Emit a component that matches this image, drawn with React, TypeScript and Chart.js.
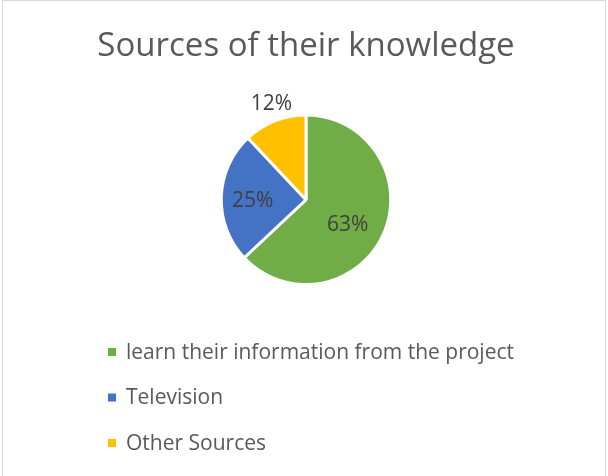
import React, { useEffect, useRef } from "react";
import { Chart, registerables } from "chart.js";

Chart.register(...registerables);

const TITLE = "Sources of their knowledge";
const categories = [
  "learn their information from the project",
  "Television",
  "Other Sources",
];
const values = [63, 25, 12];
const colors = ["#70AD47", "#4472C4", "#FFC000"];
// placement of each percentage label (fraction of radius, extra px outside, angle shift in degrees)
const labelRadiusFactor = [0.57, 0.63, 1.0];
const labelRadiusExtra = [0, 0, 18];
const labelAngleShift = [7, -1.8, 2];

const FONT = "'Open Sans', 'Noto Sans', sans-serif";

const backgroundPlugin = {
  id: "bgBorder",
  beforeDraw(chart: any) {
    const { ctx, width, height } = chart;
    ctx.save();
    ctx.fillStyle = "#ffffff";
    ctx.fillRect(0, 0, width, height);
    ctx.strokeStyle = "#d9d9d9";
    ctx.lineWidth = 1;
    ctx.strokeRect(2.5, 0.5, width - 5, height + 2);
    ctx.restore();
  },
};

const pctLabelPlugin = {
  id: "pctLabels",
  afterDatasetsDraw(chart: any) {
    const { ctx } = chart;
    const meta = chart.getDatasetMeta(0);
    const data = chart.data.datasets[0].data as number[];
    const total = data.reduce((a, b) => a + b, 0);
    ctx.save();
    ctx.font = `21px ${FONT}`;
    ctx.fillStyle = "#404040";
    ctx.textAlign = "center";
    ctx.textBaseline = "middle";
    meta.data.forEach((arc: any, i: number) => {
      const p = arc.getProps(["x", "y", "startAngle", "endAngle", "outerRadius"], true);
      const mid = (p.startAngle + p.endAngle) / 2 + (labelAngleShift[i] * Math.PI) / 180;
      const r = p.outerRadius * labelRadiusFactor[i] + labelRadiusExtra[i];
      const tx = p.x + Math.cos(mid) * r;
      const ty = p.y + Math.sin(mid) * r + 1;
      ctx.fillText(Math.round((data[i] / total) * 100) + "%", tx, ty);
    });
    ctx.restore();
  },
};

const legendPlugin = {
  id: "verticalLegend",
  afterDraw(chart: any) {
    const { ctx } = chart;
    const labels = chart.data.labels as string[];
    const bg = chart.data.datasets[0].backgroundColor as string[];
    const x0 = 108;
    const y0 = 352;
    const step = 45.5;
    const box = 8;
    ctx.save();
    ctx.font = `21px ${FONT}`;
    ctx.textBaseline = "middle";
    ctx.textAlign = "left";
    labels.forEach((lab, i) => {
      const cy = y0 + i * step;
      ctx.fillStyle = bg[i];
      ctx.fillRect(x0, cy - box / 2, box, box);
      ctx.fillStyle = "#595959";
      ctx.fillText(lab, x0 + 18, cy + 1);
    });
    ctx.restore();
  },
};

export default function App() {
  const ref = useRef<HTMLCanvasElement | null>(null);

  useEffect(() => {
    document.body.style.margin = "0";
    if (!ref.current) return;
    const chart = new Chart(ref.current, {
      type: "pie",
      data: {
        labels: categories,
        datasets: [
          {
            data: values,
            backgroundColor: colors,
            borderColor: "#ffffff",
            borderWidth: 3,
            hoverOffset: 0,
          },
        ],
      },
      options: {
        responsive: false,
        animation: false,
        devicePixelRatio: 1,
        layout: { padding: { top: 0, left: 4, right: 0, bottom: 190 } },
        plugins: {
          legend: { display: false },
          tooltip: { enabled: false },
          title: {
            display: true,
            text: TITLE,
            color: "#595959",
            font: { family: FONT, size: 33, weight: "normal" },
            padding: { top: 26.5, bottom: 47.4 },
          },
        },
      },
      plugins: [backgroundPlugin, pctLabelPlugin, legendPlugin],
    });
    return () => chart.destroy();
  }, []);

  return (
    <div style={{ width: 608, height: 476 }}>
      <canvas ref={ref} width={608} height={476} style={{ display: "block" }} />
    </div>
  );
}
